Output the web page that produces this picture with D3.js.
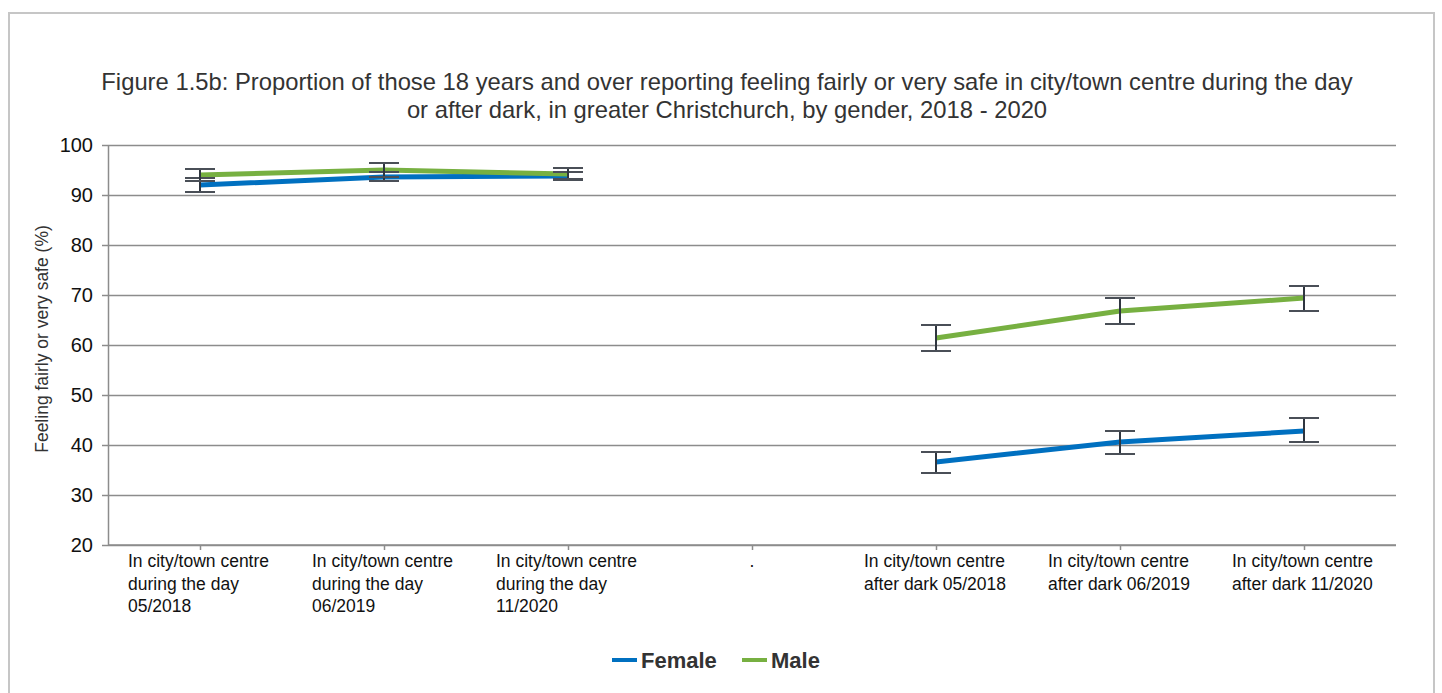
<html>
<head>
<meta charset="utf-8">
<style>
body { margin: 0; background: #fff; font-family: "Liberation Sans", Arial, sans-serif; }
.grid line { stroke: #8c8c8c; stroke-width: 1.5; }
.grid path { display: none; }
.axis path, .axis line { stroke: #8c8c8c; stroke-width: 1.5; }
</style>
</head>
<body>
<script src="https://cdn.jsdelivr.net/npm/d3@7"></script>
<script>

var width = 1442,
    height = 693;

// categories (tick labels, line breaks as in the original)
var categories = [
  "In city/town centre\nduring the day\n05/2018",
  "In city/town centre\nduring the day\n06/2019",
  "In city/town centre\nduring the day\n11/2020",
  ".",
  "In city/town centre\nafter dark 05/2018",
  "In city/town centre\nafter dark 06/2019",
  "In city/town centre\nafter dark 11/2020"
];

// values, null where there is no point
var female = [92.0, 93.6, 93.8, null, 36.6, 40.6, 42.8];
var femaleLow = [90.6, 92.8, 93.0, null, 34.4, 38.2, 40.6];
var femaleHigh = [93.4, 94.6, 94.6, null, 38.6, 42.8, 45.4];

var male = [94.0, 95.0, 94.2, null, 61.4, 66.8, 69.4];
var maleLow = [92.8, 93.6, 93.2, null, 58.8, 64.2, 66.8];
var maleHigh = [95.2, 96.4, 95.4, null, 64.0, 69.4, 71.8];

var yTicks = [20, 30, 40, 50, 60, 70, 80, 90, 100];

var series = [
  {name: "Female", color: "#0070c0", vals: female, lo: femaleLow, hi: femaleHigh},
  {name: "Male", color: "#77b041", vals: male, lo: maleLow, hi: maleHigh}
];

var margin = {left: 108, top: 145, right: 46, bottom: 148};

var svg = d3.select("body").append("svg")
    .attr("width", width)
    .attr("height", height);

// outer frame
svg.append("rect")
    .attr("x", 9).attr("y", 13)
    .attr("width", 1425).attr("height", 700)
    .attr("fill", "none")
    .attr("stroke", "#c6c6c6")
    .attr("stroke-width", 2);

// title
var title = svg.append("text")
    .attr("text-anchor", "middle")
    .attr("fill", "#333")
    .style("font-size", "23.8px");
title.append("tspan").attr("x", 727).attr("y", 90)
    .text("Figure 1.5b: Proportion of those 18 years and over reporting feeling fairly or very safe in city/town centre during the day");
title.append("tspan").attr("x", 727).attr("y", 118)
    .text("or after dark, in greater Christchurch, by gender, 2018 - 2020");

var x = d3.scalePoint()
    .domain(d3.range(categories.length))
    .range([margin.left, width - margin.right])
    .padding(0.5);

var y = d3.scaleLinear()
    .domain([20, 100])
    .range([height - margin.bottom, margin.top]);

// gridlines
svg.append("g")
    .attr("class", "grid")
    .attr("transform", "translate(" + margin.left + ",0)")
    .call(d3.axisLeft(y).tickValues(yTicks).tickSize(-(width - margin.right - margin.left)).tickFormat(""));

// y axis
var yAxis = svg.append("g")
    .attr("class", "axis")
    .attr("transform", "translate(" + margin.left + ",0)")
    .call(d3.axisLeft(y).tickValues(yTicks).tickSize(6).tickSizeOuter(0).tickPadding(9));
yAxis.selectAll("text")
    .attr("fill", "#111")
    .style("font-size", "20px")
    .style("font-family", "Liberation Sans, Arial, sans-serif");

// x axis
var xAxis = svg.append("g")
    .attr("class", "axis")
    .attr("transform", "translate(0," + y(20) + ")")
    .call(d3.axisBottom(x).tickSize(5).tickSizeOuter(0).tickFormat(""));
xAxis.select("path").attr("d", "M" + margin.left + ",0H" + (width - margin.right));

var xl = svg.append("g");
categories.forEach(function(c, i) {
  var lines = c.split("\n");
  var t = xl.append("text")
      .attr("fill", "#111")
      .style("font-size", "17.5px")
      .attr("text-anchor", c === "." ? "middle" : "start");
  lines.forEach(function(l, k) {
    t.append("tspan")
        .attr("x", c === "." ? x(i) : x(i) - 72)
        .attr("y", y(20) + 22 + k * 22.5)
        .text(l);
  });
});

// y title
svg.append("text")
    .attr("transform", "translate(48," + (y(60) - 6) + ") rotate(-90)")
    .attr("text-anchor", "middle")
    .attr("fill", "#333")
    .style("font-size", "17.5px")
    .text("Feeling fairly or very safe (%)");

// lines
var line = d3.line()
    .defined(function(d) { return d != null; })
    .x(function(d, i) { return x(i); })
    .y(function(d) { return y(d); });

series.forEach(function(s) {
  svg.append("path")
      .datum(s.vals)
      .attr("fill", "none")
      .attr("stroke", s.color)
      .attr("stroke-width", 5)
      .attr("d", line);
});

// error bars
series.forEach(function(s) {
  var g = svg.append("g");
  s.vals.forEach(function(v, i) {
    if (v == null) return;
    var cx = x(i);
    g.append("line")
        .attr("x1", cx).attr("x2", cx)
        .attr("y1", y(s.lo[i])).attr("y2", y(s.hi[i]))
        .attr("stroke", "#2f3640").attr("stroke-width", 2);
    [s.lo[i], s.hi[i]].forEach(function(e) {
      g.append("line")
          .attr("x1", cx - 15).attr("x2", cx + 15)
          .attr("y1", y(e)).attr("y2", y(e))
          .attr("stroke", "#4a4f57").attr("stroke-width", 2);
    });
  });
});

// legend
var leg = svg.append("g").attr("transform", "translate(612,660)");
series.forEach(function(s, i) {
  var item = leg.append("g").attr("transform", "translate(" + (i === 0 ? 0 : 130) + ",0)");
  item.append("line")
      .attr("x1", 0).attr("x2", 25)
      .attr("y1", 0).attr("y2", 0)
      .attr("stroke", s.color).attr("stroke-width", 4);
  item.append("text")
      .attr("x", 29).attr("y", 8)
      .attr("fill", "#333")
      .style("font-size", "22px")
      .style("font-weight", "bold")
      .text(s.name);
});

</script>
</body>
</html>
